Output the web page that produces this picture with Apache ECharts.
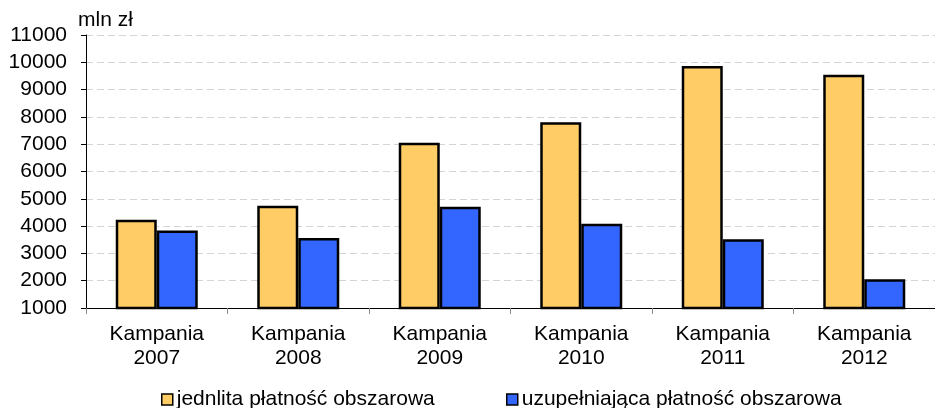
<!DOCTYPE html>
<html>
<head>
<meta charset="utf-8">
<script src="https://cdn.jsdelivr.net/npm/echarts@6/dist/echarts.min.js"></script>
<style>
  html, body { margin: 0; padding: 0; background: #fff; }
  #main { width: 935px; height: 408px; }
</style>
</head>
<body>
<div id="main"></div>
<script>
// dane z wykresu (mln zł)
var categories = ['Kampania\n2007', 'Kampania\n2008', 'Kampania\n2009', 'Kampania\n2010', 'Kampania\n2011', 'Kampania\n2012'];
var jpo = [4230, 4750, 7050, 7800, 9860, 9540];
var upo = [3840, 3560, 4710, 4090, 3520, 2050];
var seriesNames = ['jednlita płatność obszarowa', 'uzupełniająca płatność obszarowa'];

var font = 'Liberation Sans, Arial, sans-serif';

var myChart = echarts.init(document.getElementById('main'));

var legendBase = {
  icon: 'rect',
  top: 389, padding: 0,
  itemWidth: 11, itemHeight: 11, itemGap: 4,
  itemStyle: { borderColor: '#000', borderWidth: 1.5 },
  textStyle: { fontSize: 21, color: '#000', fontFamily: font, padding: [0, 0, 0, -1] }
};

var option = {
  animation: false,
  textStyle: { fontFamily: font },
  grid: { left: 86, right: -8, top: 35, bottom: 100 },
  legend: [
    Object.assign({ data: [seriesNames[0]], left: 161 }, legendBase),
    Object.assign({ data: [seriesNames[1]], left: 506 }, legendBase)
  ],
  xAxis: {
    type: 'category',
    data: categories,
    axisLine: { lineStyle: { color: '#000', width: 1 } },
    axisTick: { show: true, length: 6, lineStyle: { color: '#888' } },
    axisLabel: { fontSize: 21, color: '#000', lineHeight: 24, margin: 14, fontFamily: font }
  },
  yAxis: {
    type: 'value',
    min: 1000, max: 11000, interval: 1000,
    name: 'mln zł',
    nameLocation: 'end',
    nameGap: 4,
    nameTextStyle: { fontSize: 21, color: '#000', align: 'left', padding: [0, 0, 0, -8], fontFamily: font },
    axisLine: { show: true, lineStyle: { color: '#000', width: 1 } },
    axisTick: { show: true, length: 5, lineStyle: { color: '#000' } },
    axisLabel: {
      fontSize: 21, color: '#000', margin: 19, fontFamily: font,
      formatter: function (v) { return String(v); }
    },
    splitLine: { show: true, lineStyle: { color: '#d4d4d4', type: [7, 4], width: 1 } }
  },
  series: [
    {
      name: seriesNames[0],
      type: 'bar',
      data: jpo,
      barWidth: 41,
      barGap: '0%',
      itemStyle: { color: '#FFCC66', borderColor: '#000', borderWidth: 2.5 }
    },
    {
      name: seriesNames[1],
      type: 'bar',
      data: upo,
      barWidth: 41,
      barGap: '0%',
      itemStyle: { color: '#3366FF', borderColor: '#000', borderWidth: 2.5 }
    }
  ]
};

myChart.setOption(option);
</script>
</body>
</html>
